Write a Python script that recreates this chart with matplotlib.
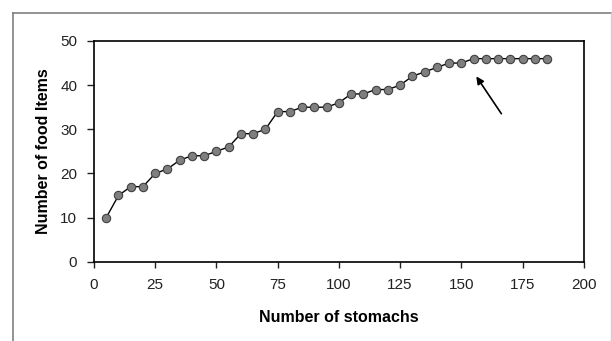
import matplotlib.pyplot as plt
from matplotlib.lines import Line2D

# Cumulative number of food items against number of stomachs examined
stomachs = [5, 10, 15, 20, 25, 30, 35, 40, 45, 50, 55, 60, 65, 70, 75, 80, 85,
            90, 95, 100, 105, 110, 115, 120, 125, 130, 135, 140, 145, 150, 155,
            160, 165, 170, 175, 180, 185]
food_items = [10, 15, 17, 17, 20, 21, 23, 24, 24, 25, 26, 29, 29, 30, 34, 34, 35,
              35, 35, 36, 38, 38, 39, 39, 40, 42, 43, 44, 45, 45, 46,
              46, 46, 46, 46, 46, 46]

x_ticks = [0, 25, 50, 75, 100, 125, 150, 175, 200]
y_ticks = [0, 10, 20, 30, 40, 50]

plt.rcParams["font.family"] = ["Liberation Sans", "DejaVu Sans"]

fig = plt.figure(figsize=(6.12, 3.41), dpi=100)
ax = fig.add_axes([0.1536, 0.2326, 0.8002, 0.6472])

ax.plot(stomachs, food_items, color="black", linewidth=1.0,
        marker="o", markersize=6, markerfacecolor="#7f7f7f",
        markeredgecolor="#404040", markeredgewidth=0.8)

# arrow pointing at the start of the plateau
ax.annotate("", xy=(155.5, 42.5), xytext=(167, 33),
            arrowprops=dict(arrowstyle="-|>", color="black", lw=1.2,
                            mutation_scale=11))

ax.set_xlim(0, 200)
ax.set_ylim(0, 50)
ax.set_xticks(x_ticks)
ax.set_yticks(y_ticks)
ax.tick_params(direction="out", width=1, labelsize=11, colors="#222222")
ax.tick_params(axis="x", length=4, pad=8)
ax.tick_params(axis="y", length=5, pad=7)
for spine in ax.spines.values():
    spine.set_linewidth(1.2)

ax.set_xlabel("Number of stomachs", fontsize=11.5, fontweight="bold", labelpad=13)
ax.set_ylabel("Number of food Items", fontsize=11.5, fontweight="bold", labelpad=7)

# outer chart frame
fig.add_artist(Line2D([13 / 612, 611 / 612], [1 - 13 / 341, 1 - 13 / 341],
                      color="#808080", linewidth=1.2))
fig.add_artist(Line2D([13 / 612, 13 / 612], [0, 1 - 13 / 341],
                      color="#808080", linewidth=1.2))
fig.add_artist(Line2D([611 / 612, 611 / 612], [0, 1 - 13 / 341],
                      color="#d0d0d0", linewidth=1.0))

fig.savefig("out.png", dpi=100)
